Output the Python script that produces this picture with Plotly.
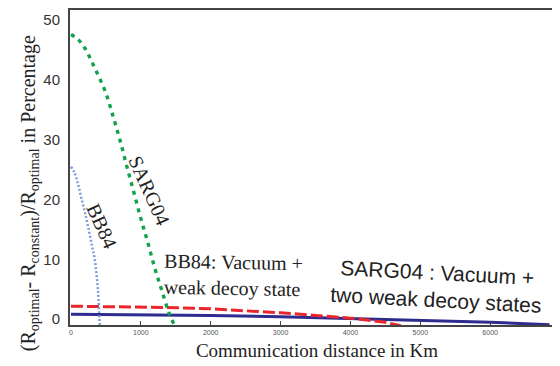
import plotly.graph_objects as go

# BB84 (no decoy) curve
bb84_x = [0, 50, 100, 150, 200, 250, 300, 340, 385, 408, 412]
bb84_y = [25.5, 24.5, 22.6, 20.2, 17.8, 15.2, 12.3, 10.0, 5.0, 0.0, -1.0]

# SARG04 (no decoy) curve
sarg_x = [0, 100, 200, 300, 400, 500, 600, 700, 800, 900, 1000, 1100, 1200, 1300, 1400, 1470]
sarg_y = [47.6, 46.8, 45.3, 43.0, 40.5, 37.8, 34.0, 30.0, 25.5, 21.2, 16.8, 12.8, 8.5, 4.8, 1.1, -0.8]

# BB84 vacuum + weak decoy
bbd_x = [0, 1000, 1500, 2000, 2500, 3000, 3500, 4000, 4300, 4500, 4720]
bbd_y = [2.15, 2.05, 1.9, 1.7, 1.4, 1.05, 0.6, 0.15, -0.25, -0.55, -1.1]

# SARG04 vacuum + two weak decoy
sd_x = [0, 1000, 2000, 3000, 4000, 5000, 6000, 6850]
sd_y = [0.8, 0.75, 0.6, 0.4, 0.1, -0.2, -0.55, -0.95]

x_ticks = [0, 1000, 2000, 3000, 4000, 5000, 6000, 7000]
y_ticks = [0, 10, 20, 30, 40, 50]

fig = go.Figure()
fig.add_trace(go.Scatter(x=sd_x, y=sd_y, mode="lines",
                         line=dict(color="#2E2C8E", width=3)))
fig.add_trace(go.Scatter(x=bbd_x, y=bbd_y, mode="lines",
                         line=dict(color="#E8262C", width=3, dash="12px,4px")))
fig.add_trace(go.Scatter(x=bb84_x, y=bb84_y, mode="lines", line_shape="spline",
                         line=dict(color="#7D9BE0", width=2.5, dash="2px,2px")))
fig.add_trace(go.Scatter(x=sarg_x, y=sarg_y, mode="lines", line_shape="spline",
                         line=dict(color="#12A14E", width=3.4, dash="4px,5px")))

serif = "Liberation Serif, Times New Roman, serif"
sans = "Liberation Sans, Arial, sans-serif"

fig.add_annotation(x=1130, y=21.5, xref="x", yref="y", text="SARG04", showarrow=False,
                   textangle=66, font=dict(family=serif, size=20, color="#222"))
fig.add_annotation(x=440, y=15.5, xref="x", yref="y", text="BB84", showarrow=False,
                   textangle=66, font=dict(family=serif, size=20, color="#222"))
fig.add_annotation(x=2320, y=7.3, xref="x", yref="y",
                   text="BB84: Vacuum +<br>weak decoy state", showarrow=False, align="left",
                   textangle=1, font=dict(family=serif, size=20, color="#222"))
fig.add_annotation(x=5235, y=5.5, xref="x", yref="y",
                   text="SARG04 : Vacuum +<br>two weak decoy states", showarrow=False,
                   textangle=3, font=dict(family=sans, size=21, color="#222"))

fig.add_annotation(x=-0.082, y=0.42, xref="paper", yref="paper", xanchor="center", yanchor="middle",
                   text="(R<sub>optimal</sub>- R<sub>constant</sub>)/R<sub>optimal</sub> in Percentage",
                   showarrow=False, textangle=-90,
                   font=dict(family=serif, size=20, color="#222"))

fig.update_layout(
    width=560, height=366,
    margin=dict(l=62, r=0, t=1, b=49),
    paper_bgcolor="white", plot_bgcolor="white",
    showlegend=False,
    xaxis=dict(range=[-14, 7057], tickvals=x_ticks, ticktext=[str(v) for v in x_ticks],
               showgrid=False, zeroline=False, showline=True, linecolor="#444", linewidth=2,
               mirror=True, ticks="inside", ticklen=4, tickcolor="#444",
               ticklabeloverflow="allow",
               tickfont=dict(family=sans, size=7, color="#555"),
               title=dict(text="Communication distance in Km", standoff=8,
                          font=dict(family=serif, size=19, color="#222"))),
    yaxis=dict(range=[-1, 51.7], tickvals=y_ticks, showgrid=False, zeroline=False,
               showline=True, linecolor="#444", linewidth=2, mirror=False, ticks="",
               ticklabelstandoff=5,
               tickfont=dict(family=sans, size=15, color="#333")),
)

fig.write_html("out.html")
